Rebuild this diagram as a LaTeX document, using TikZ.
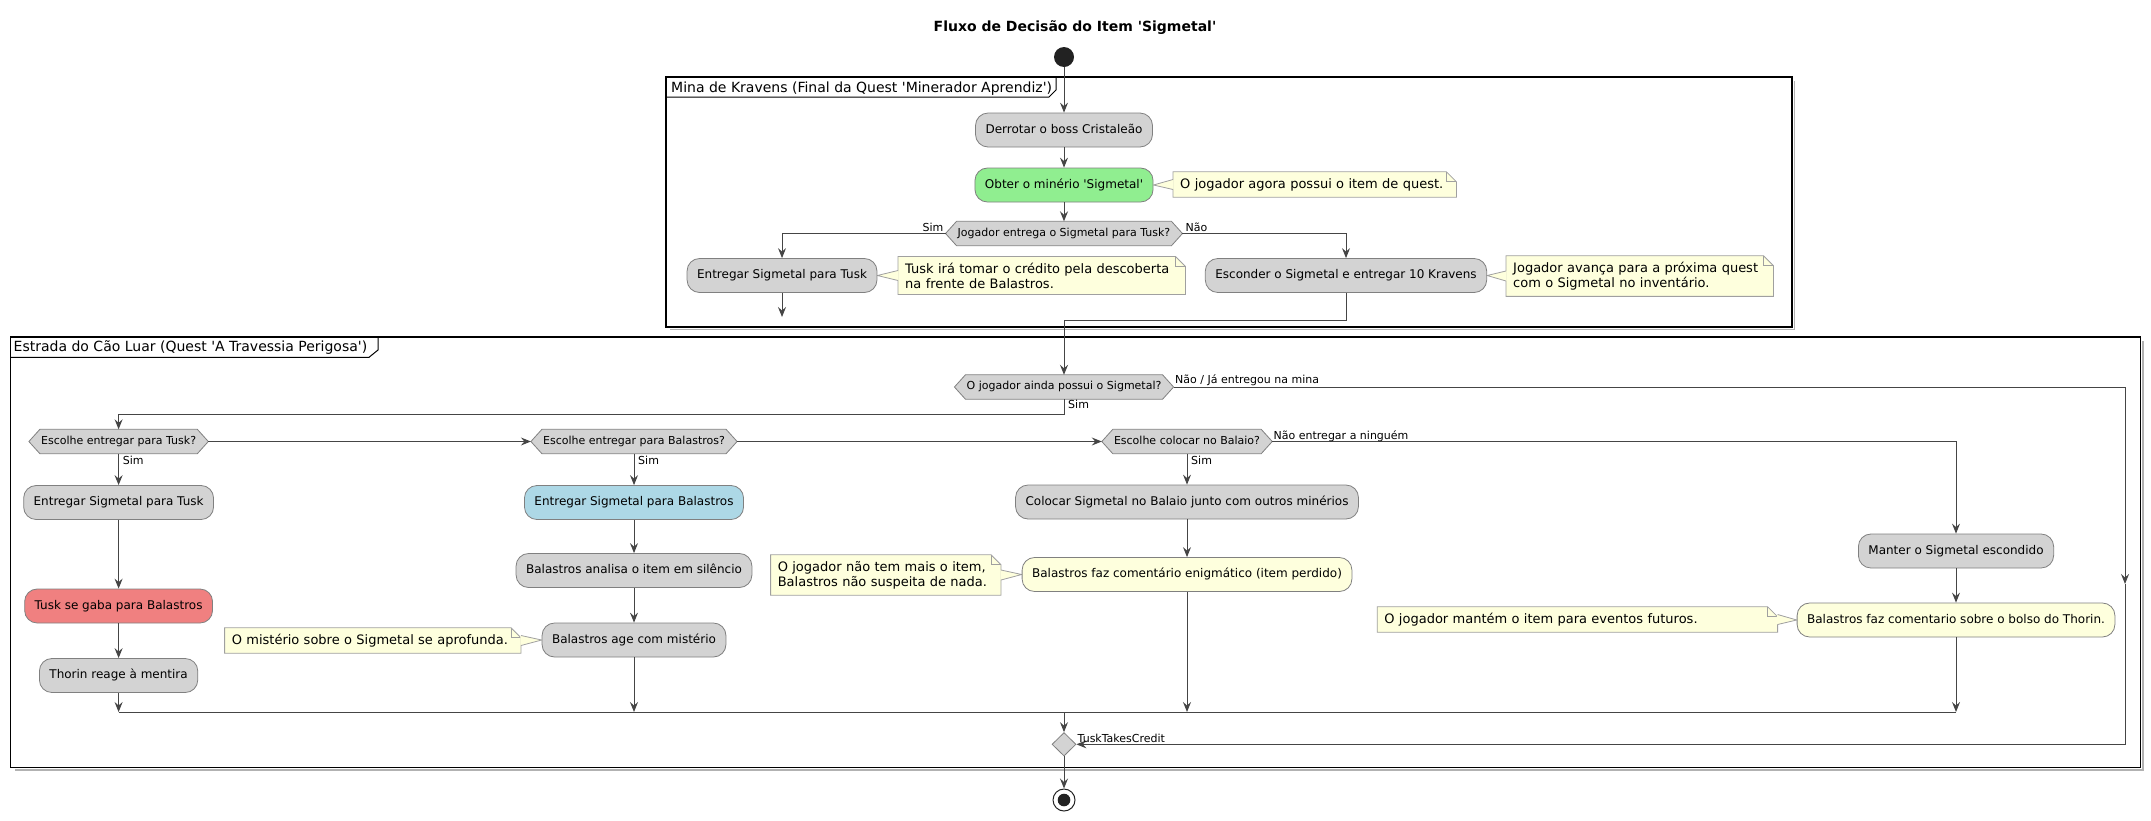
\documentclass[tikz,border=0pt]{standalone}
\usepackage{fontspec}
\setmainfont{DejaVu Sans}
\usetikzlibrary{arrows.meta,calc,backgrounds,shapes.geometric}
\definecolor{actfill}{HTML}{D3D3D3}
\definecolor{actline}{HTML}{808080}
\definecolor{arrowc}{HTML}{454545}
\definecolor{notefill}{HTML}{FEFFDD}
\definecolor{notebd}{HTML}{A0A0A0}
\definecolor{greenf}{HTML}{90EE90}
\definecolor{bluef}{HTML}{ADD8E6}
\definecolor{redf}{HTML}{F08080}
\definecolor{yellf}{HTML}{FEFFDD}
\definecolor{darkdot}{HTML}{222222}
\newcommand\sq{\textquotesingle}
\tikzset{
  act/.style={rectangle, rounded corners=12.5pt, draw=actline, line width=0.8pt, fill=actfill,
    inner xsep=10pt, inner ysep=0pt, minimum height=34pt, font=\fontsize{12}{14}\selectfont,
    text height=9pt, text depth=2.5pt},
  hextext/.style={rectangle, inner xsep=12pt, inner ysep=0pt, minimum height=24pt,
    font=\fontsize{11}{13}\selectfont, text height=8pt, text depth=2.4pt},
  hexline/.style={draw=actline, line width=0.8pt, fill=actfill},
  notetext/.style={rectangle, inner xsep=7pt, inner ysep=6pt, minimum height=25pt, align=left,
    font=\fontsize{13}{15.2}\selectfont},
  noteline/.style={draw=notebd, line width=0.8pt, fill=notefill},
  notefold/.style={draw=notebd, line width=0.8pt},
  flow/.style={draw=arrowc, line width=1pt, -{Stealth[length=10pt,width=8pt,inset=3.5pt]}},
  plain/.style={draw=arrowc, line width=1pt},
  lbl/.style={font=\fontsize{11}{13}\selectfont, inner sep=0pt},
  frameline/.style={draw=black, line width=1.5pt},
  tabline/.style={draw=black, line width=1pt},
  shadowline/.style={draw=black!30, line width=1.3pt},
  framelbl/.style={font=\fontsize{14}{16}\selectfont, inner sep=0pt, anchor=base west},
  titlestyle/.style={font=\fontsize{14}{16}\selectfont\bfseries, inner sep=0pt},
  startc/.style={circle, fill=darkdot, minimum size=20pt, inner sep=0pt},
  endc/.style={circle, draw=darkdot, line width=1pt, fill=white, minimum size=22pt, inner sep=0pt},
  mergestyle/.style={diamond, draw=actline, line width=0.8pt, fill=actfill, minimum width=24pt,
    minimum height=23.5pt, inner sep=0pt},
}
\newcommand\hexnode[3]{%
  \node[hextext] (#1) at (#2) {#3};
  \begin{scope}[on background layer]
    \draw[hexline] (#1.west) -- ($(#1.north west)+(11,0)$) -- ($(#1.north east)+(-11,0)$)
      -- (#1.east) -- ($(#1.south east)+(-11,0)$) -- ($(#1.south west)+(11,0)$) -- cycle;
  \end{scope}}
\newcommand\notebox[5][]{%
  \node[notetext, anchor=#3, #1] (#2) at (#4) {#5};
  \begin{scope}[on background layer]
    \draw[noteline] (#2.north west) -- ($(#2.north east)+(-10,0)$) -- ($(#2.north east)+(0,10)$)
      -- (#2.south east) -- (#2.south west) -- cycle;
    \draw[notefold] ($(#2.north east)+(-10,0)$) -- ($(#2.north east)+(-10,10)$) -- ($(#2.north east)+(0,10)$);
  \end{scope}}
\newcommand\notetip[4]{%
  \begin{scope}[on background layer]
    \fill[notefill] ($(#1.#2)+(#3,-5)$) -- (#4) -- ($(#1.#2)+(#3,5)$) -- cycle;
    \draw[notefold] ($(#1.#2)+(0,-5)$) -- (#4) -- ($(#1.#2)+(0,5)$);
  \end{scope}}
\begin{document}
\begin{tikzpicture}[x=1pt,y=-1pt]
\useasboundingbox (0,0) rectangle (2151,820);
\node[titlestyle] (title) at (1075,28) {Fluxo de Decisão do Item \sq Sigmetal\sq};

% ---- frame 1
\coordinate (minaNW) at (666,77);
\coordinate (minaSE) at (1792,327);
\draw[shadowline] (1794.5,81) -- (1794.5,329.5) -- (670,329.5);
\draw[frameline] (minaNW) rectangle (minaSE);
\node[framelbl] (minalbl) at (671,92) {Mina de Kravens (Final da Quest \sq Minerador Aprendiz\sq)};
\draw[tabline] (666,97) -- (1049,97) -- (1056,90) -- (1056,77);

% ---- frame 2
\coordinate (estNW) at (10.5,337);
\coordinate (estSE) at (2140.5,767.5);
\draw[shadowline] (2143,341) -- (2143,770) -- (14.5,770);
\draw[frameline] (estNW) rectangle (estSE);
\node[framelbl] (estlbl) at (13.5,351) {Estrada do Cão Luar (Quest \sq A Travessia Perigosa\sq)};
\draw[tabline] (10.5,357.3) -- (369,357.3) -- (378,350) -- (378,337);

% ---- nodes, frame 1
\node[startc] (start) at (1064,57) {};
\node[act] (a1) at (1064,130) {Derrotar o boss Cristaleão};
\node[act, fill=greenf] (a2) at (1064,185) {Obter o minério \sq Sigmetal\sq};
\hexnode{d1}{1064,233.5}{Jogador entrega o Sigmetal para Tusk?}
\node[act] (a3) at (782,275.5) {Entregar Sigmetal para Tusk};
\node[act] (a4) at (1346,275.5) {Esconder o Sigmetal e entregar 10 Kravens};
\coordinate (a3end) at (782,317);
\coordinate (m2) at (1064,320);

% ---- nodes, frame 2
\hexnode{d2}{1064,387}{O jogador ainda possui o Sigmetal?}
\hexnode{d3}{118.6,441.5}{Escolhe entregar para Tusk?}
\hexnode{d4}{634,441.5}{Escolhe entregar para Balastros?}
\hexnode{d5}{1187,441.5}{Escolhe colocar no Balaio?}
\node[act] (a5) at (118.6,502.5) {Entregar Sigmetal para Tusk};
\node[act, fill=redf] (a6) at (118.6,606) {Tusk se gaba para Balastros};
\node[act] (a7) at (118.6,675.5) {Thorin reage à mentira};
\node[act, fill=bluef] (a8) at (634,502.5) {Entregar Sigmetal para Balastros};
\node[act] (a9) at (634,570.5) {Balastros analisa o item em silêncio};
\node[act] (a10) at (634,640) {Balastros age com mistério};
\node[act] (a11) at (1187,502) {Colocar Sigmetal no Balaio junto com outros minérios};
\node[act, fill=yellf] (a12) at (1187,574.5) {Balastros faz comentário enigmático (item perdido)};
\node[act] (a13) at (1956,551) {Manter o Sigmetal escondido};
\node[act, fill=yellf] (a14) at (1956,620) {Balastros faz comentario sobre o bolso do Thorin.};
\node[mergestyle] (mg) at (1064,744.3) {};
\node[endc] (end) at (1064,800) {};
\fill[darkdot] (end.center) circle[radius=6.3pt];

% ---- notes
\notebox[text width=269pt]{n1}{west}{1173,184.5}{O jogador agora possui o item de quest.}
\notetip{n1}{west}{0.7}{a2.east}
\notebox[text width=273pt]{n2}{west}{898,275.5}{Tusk irá tomar o crédito pela descoberta\\na frente de Balastros.}
\notetip{n2}{west}{0.7}{a3.east}
\notebox[text width=253pt]{n3}{west}{1506,276}{Jogador avança para a próxima quest\\com o Sigmetal no inventário.}
\notetip{n3}{west}{0.7}{a4.east}
\notebox[text width=282pt]{n4}{east}{521,640.5}{O mistério sobre o Sigmetal se aprofunda.}
\notetip{n4}{east}{-0.7}{a10.west}
\notebox[text width=216pt]{n5}{east}{1001,575}{O jogador não tem mais o item,\\Balastros não suspeita de nada.}
\notetip{n5}{east}{-0.7}{a12.west}
\notebox[text width=386pt]{n6}{east}{1777.6,619.5}{O jogador mantém o item para eventos futuros.}
\notetip{n6}{east}{-0.7}{a14.west}

% ---- connectors, frame 1
\draw[flow] (start) -- (a1);
\draw[flow] (a1) -- (a2);
\draw[flow] (a2) -- (d1.north);
\draw[flow] (d1.west) -| (a3.north);
\draw[flow] (d1.east) -| (a4.north);
\draw[flow] (a3) -- (a3end);
\draw[flow] (a4.south) |- (m2) -- (d2.north);
\node[lbl, anchor=base east] (l1) at (943.5,231.5) {Sim};
\node[lbl, anchor=base west] (l2) at (1185.5,231.5) {Não};

% ---- connectors, frame 2
\coordinate (rmid) at (2125,584);
\draw[flow] (d2.east) -| (rmid);
\draw[flow] (rmid) |- (mg.east);
\node[lbl, anchor=base west] (l3) at (1175,383.5) {Não / Já entregou na mina};
\coordinate (s1) at (1064,414);
\draw[flow] (d2.south) -- (s1) -| (d3.north);
\node[lbl, anchor=base west] (l4) at (1068,408.5) {Sim};
\draw[flow] (d3.east) -- (d4.west);
\draw[flow] (d4.east) -- (d5.west);
\draw[flow] (d5.east) -| (a13.north);
\node[lbl, anchor=base west] (l5) at (1273.5,439) {Não entregar a ninguém};
\draw[flow] (d3.south) -- (a5.north);
\node[lbl, anchor=base west] (l6) at (122.6,464) {Sim};
\draw[flow] (d4.south) -- (a8.north);
\node[lbl, anchor=base west] (l7) at (638,464) {Sim};
\draw[flow] (d5.south) -- (a11.north);
\node[lbl, anchor=base west] (l8) at (1191,464) {Sim};
\draw[flow] (a5) -- (a6);
\draw[flow] (a6) -- (a7);
\draw[flow] (a8) -- (a9);
\draw[flow] (a9) -- (a10);
\draw[flow] (a11) -- (a12);
\draw[flow] (a13) -- (a14);
\coordinate (j1) at (118.6,712);
\coordinate (j2) at (634,712);
\coordinate (j3) at (1187,712);
\coordinate (j4) at (1956,712);
\coordinate (j0) at (1064,712);
\draw[flow] (a7) -- (j1);
\draw[flow] (a10) -- (j2);
\draw[flow] (a12) -- (j3);
\draw[flow] (a14) -- (j4);
\draw[plain] (j1) -- (j4);
\draw[flow] (j0) -- (mg.north);
\node[lbl, anchor=base west] (l9) at (1077.5,742) {TuskTakesCredit};
\draw[flow] (mg.south) -- (end.north);
\end{tikzpicture}
\end{document}
